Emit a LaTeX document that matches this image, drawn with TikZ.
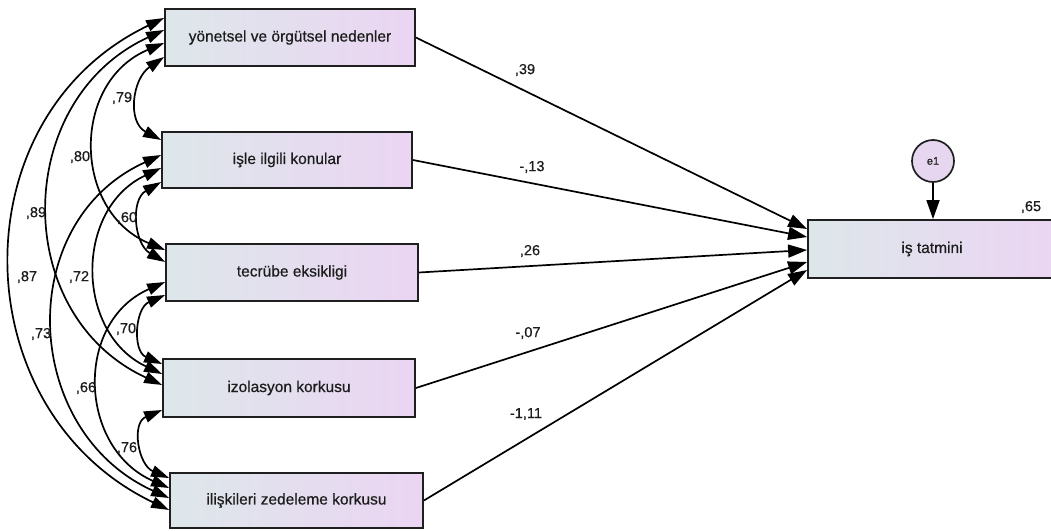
\documentclass[tikz,border=0pt]{standalone}
\usepackage{fontspec}
\setmainfont{Liberation Sans}
\newfontfamily\medfont[FakeBold=0.5]{Liberation Sans}
\usetikzlibrary{arrows.meta,calc}
\definecolor{boxL}{HTML}{DDE7EA}
\definecolor{boxR}{HTML}{EBD5F3}
\definecolor{evar}{HTML}{E6D6EF}
\definecolor{txt}{HTML}{1C1C1C}
\begin{document}
\begin{tikzpicture}[x=1pt,y=-1pt,
  obs/.style={draw=black!88, line width=1.8pt, rectangle, left color=boxL, right color=boxR,
    font=\medfont\fontsize{15.5}{18}\selectfont, text=txt, inner sep=0pt},
  lab/.style={font=\medfont\fontsize{14.5}{17}\selectfont, text=txt, inner sep=0pt},
  cov/.style={line width=1.7pt, {Triangle[length=18pt,width=11.5pt]}-{Triangle[length=18pt,width=11.5pt]}},
  reg/.style={line width=1.7pt, -{Triangle[length=19pt,width=13pt]}}
]
\useasboundingbox (0,0) rectangle (1051,530);
\clip (0,0) rectangle (1051,530);

% observed variables
\node[obs, minimum width=250pt, minimum height=57pt] (b1) at (290,37.5) {yönetsel ve örgütsel nedenler};
\node[obs, minimum width=250pt, minimum height=56pt] (b2) at (287,160) {işle ilgili konular};
\node[obs, minimum width=252pt, minimum height=57pt] (b3) at (292,272.5) {tecrübe eksikligi};
\node[obs, minimum width=252pt, minimum height=58pt] (b4) at (289,388) {izolasyon korkusu};
\node[obs, minimum width=253pt, minimum height=55pt] (b5) at (296.5,500.5) {ilişkileri zedeleme korkusu};
\node[obs, minimum width=248pt, minimum height=58pt] (y) at (932,249) {iş tatmini};
\node[circle, draw=black!88, fill=evar, minimum size=42pt, inner sep=0pt, line width=1.7pt,
  font=\medfont\fontsize{11}{13}\selectfont, text=txt] (e1) at (933,161) {e1};

% covariances
\draw[cov] ([yshift=-19.5pt]b1.west) .. controls +(-32,22) and +(-34,-18) .. ([yshift=20pt]b2.west);
\draw[cov] ([yshift=-5.5pt]b1.west) .. controls +(-93,39) and +(-93,-39) .. ([yshift=22.5pt]b3.west);
\draw[cov] ([yshift=7.5pt]b1.west) .. controls +(-152,70) and +(-152,-70) .. ([yshift=3pt]b4.west);
\draw[cov] ([yshift=19.5pt]b1.west) .. controls +(-207,99) and +(-207,-99) .. ([yshift=-9.5pt]b5.west);
\draw[cov] ([yshift=-22pt]b2.west) .. controls +(-31,18) and +(-31,-18) .. ([yshift=10.5pt]b3.west);
\draw[cov] ([yshift=-8pt]b2.west) .. controls +(-87,41) and +(-87,-41) .. ([yshift=14pt]b4.west);
\draw[cov] ([yshift=5pt]b2.west) .. controls +(-148,67) and +(-148,-67) .. ([yshift=2.5pt]b5.west);
\draw[cov] ([yshift=-22.5pt]b3.west) .. controls +(-30,13) and +(-30,-13) .. ([yshift=24pt]b4.west);
\draw[cov] ([yshift=-9.5pt]b3.west) .. controls +(-91,40) and +(-91,-40) .. ([yshift=12.5pt]b5.west);
\draw[cov] ([yshift=-22pt]b4.west) .. controls +(-31,13) and +(-31,-13) .. ([yshift=22.5pt]b5.west);

% covariance labels
\node[lab] (c12) at (122,98) {,79};
\node[lab] (c13) at (80,157) {,80};
\node[lab] (c14) at (36,213) {,89};
\node[lab] (c15) at (27,277) {,87};
\node[lab] (c23) at (127,218) {,60};
\node[lab] (c24) at (79,277) {,72};
\node[lab] (c25) at (41,334) {,73};
\node[lab] (c34) at (126,329) {,70};
\node[lab] (c35) at (86,388) {,66};
\node[lab] (c45) at (127,448) {,76};

% regressions
\draw[reg] (b1.east) -- ([yshift=20pt]y.west);
\draw[reg] (b2.east) -- ([yshift=12pt]y.west);
\draw[reg] (b3.east) -- ([yshift=-1pt]y.west);
\draw[reg] (b4.east) -- ([yshift=-13pt]y.west);
\draw[reg] (b5.east) -- ([yshift=-21pt]y.west);
\draw[reg] (e1.south) -- (e1.south |- y.north);

% regression labels
\node[lab] (r1) at (525,70) {,39};
\node[lab] (r2) at (532,167) {-,13};
\node[lab] (r3) at (530,251) {,26};
\node[lab] (r4) at (528,333) {-,07};
\node[lab] (r5) at (526,414) {-1,11};
\node[lab] (r2y) at (1031,207) {,65};
\end{tikzpicture}
\end{document}
